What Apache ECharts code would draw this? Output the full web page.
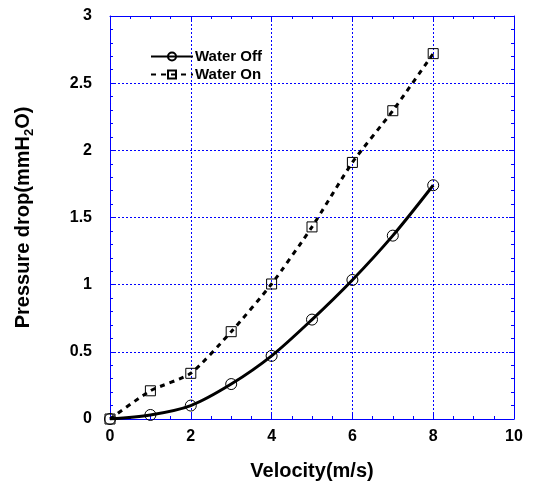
<!DOCTYPE html>
<html><head><meta charset="utf-8">
<script src="https://cdn.jsdelivr.net/npm/echarts@6/dist/echarts.min.js"></script>
<style>html,body{margin:0;padding:0;background:#fff}#c{width:534px;height:493px}</style>
</head><body><div id="c"></div>
<script>
var velocity = [0, 1, 2, 3, 4, 5, 6, 7, 8];
var waterOff = [0, 0.03, 0.10, 0.26, 0.47, 0.74, 1.035, 1.365, 1.74];
var waterOn = [0, 0.21, 0.34, 0.65, 1.005, 1.43, 1.91, 2.295, 2.72];
var seriesNames = ['Water Off', 'Water On'];

function pairs(xs, ys){ return xs.map(function(x,i){return [x, ys[i]];}); }

var blue = '#0000ff';
var font = 'Liberation Sans, Arial, sans-serif';
function axisBase(extra){
  var a = {
    axisLine:{show:true, onZero:false, lineStyle:{color:blue, width:1}},
    axisTick:{show:true, inside:true, length:5, lineStyle:{color:blue}},
    minorTick:{show:true, length:3, lineStyle:{color:blue}},
    splitLine:{show:false},
    axisLabel:{show:false}
  };
  for (var k in extra) a[k]=extra[k];
  return a;
}
var chart = echarts.init(document.getElementById('c'));
chart.setOption({
  animation:false,
  backgroundColor:'#fff',
  grid:{left:110, top:16, width:404, height:403},
  legend:{
    orient:'vertical', left:145, top:44, itemWidth:42, itemHeight:10, itemGap:3,
    data:seriesNames,
    textStyle:{fontFamily:font, fontWeight:'bold', fontSize:15, color:'#000', padding:[0,0,0,-3]}
  },
  xAxis:[
    axisBase({type:'value', min:0, max:10, interval:2, position:'bottom',
      minorTick:{show:true, splitNumber:4, length:3, lineStyle:{color:blue}},
      axisLabel:{show:true, margin:10, fontFamily:font, fontWeight:'bold', fontSize:16, color:'#000'},
      splitLine:{show:true, lineStyle:{color:blue, type:[2,2], width:1}},
      name:'Velocity(m/s)', nameLocation:'middle', nameGap:42,
      nameTextStyle:{fontFamily:font, fontWeight:'bold', fontSize:20, color:'#000'}}),
    axisBase({type:'value', min:0, max:10, interval:2, position:'top',
      minorTick:{show:true, splitNumber:4, length:3, lineStyle:{color:blue}}})
  ],
  yAxis:[
    axisBase({type:'value', min:0, max:3, interval:0.5, position:'left',
      minorTick:{show:true, splitNumber:5, length:3, lineStyle:{color:blue}},
      axisLabel:{show:true, margin:18, fontFamily:font, fontWeight:'bold', fontSize:16, color:'#000'},
      splitLine:{show:true, lineStyle:{color:blue, type:[2,2], width:1}},
      name:'{a|Pressure drop(mmH}{s|2}{a|O)}', nameLocation:'middle', nameGap:72,
      nameTextStyle:{rich:{
        a:{fontFamily:font, fontWeight:'bold', fontSize:20, color:'#000', lineHeight:30, verticalAlign:'middle'},
        s:{fontFamily:font, fontWeight:'bold', fontSize:13, color:'#000', lineHeight:30, verticalAlign:'bottom', padding:[0,0,2,0]}
      }}}),
    axisBase({type:'value', min:0, max:3, interval:0.5, position:'right',
      minorTick:{show:true, splitNumber:5, length:3, lineStyle:{color:blue}}})
  ],
  series:[
    {name:seriesNames[0], type:'line', data:pairs(velocity, waterOff), smooth:0.3,
      symbol:'circle', symbolSize:11,
      lineStyle:{color:'#000', width:3},
      itemStyle:{color:'rgba(255,255,255,0)', borderColor:'#000', borderWidth:1}, z:3},
    {name:seriesNames[1], type:'line', data:pairs(velocity, waterOn), smooth:0.2,
      symbol:'rect', symbolSize:10,
      lineStyle:{color:'#000', width:3, type:[5,5]},
      itemStyle:{color:'rgba(255,255,255,0)', borderColor:'#000', borderWidth:1}, z:3}
  ]
});
</script></body></html>
